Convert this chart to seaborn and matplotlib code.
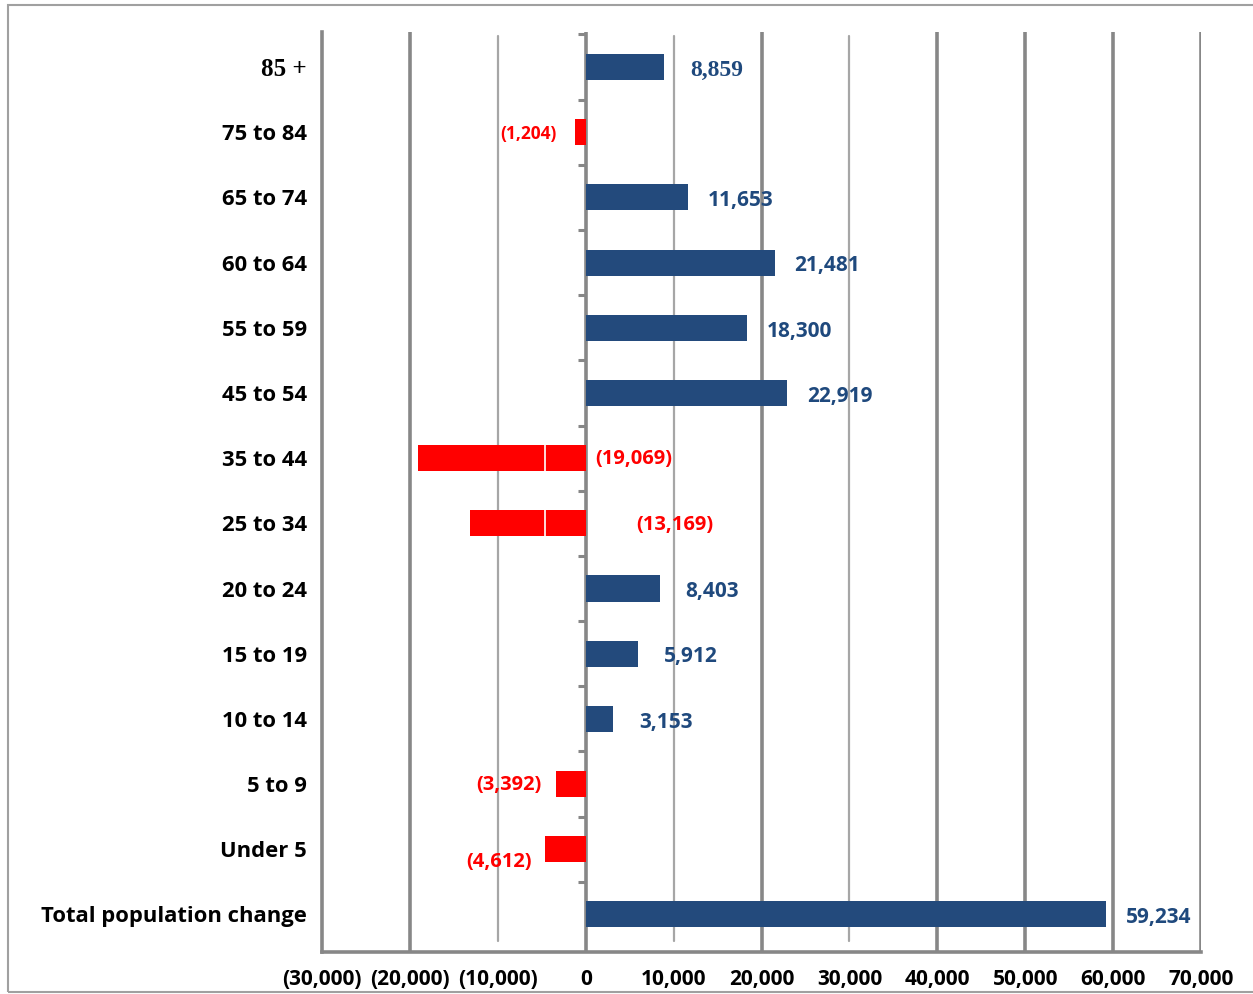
import numpy as np
import pandas as pd
import matplotlib
matplotlib.use("Agg")
import matplotlib.pyplot as plt
from matplotlib.patches import Rectangle
import seaborn as sns

# data
age_groups = ['85 +', '75 to 84', '65 to 74', '60 to 64', '55 to 59', '45 to 54',
              '35 to 44', '25 to 34', '20 to 24', '15 to 19', '10 to 14', '5 to 9',
              'Under 5', 'Total population change']
pop_change = [8859, -1204, 11653, 21481, 18300, 22919, -19069, -13169,
              8403, 5912, 3153, -3392, -4612, 59234]
x_ticks = [-30000, -20000, -10000, 0, 10000, 20000, 30000, 40000, 50000, 60000, 70000]

BLUE = '#234A7C'
RED = '#FF0000'
GRID_DARK = '#878787'
GRID_LIGHT = '#A6A6A6'
SANS = ['Open Sans', 'DejaVu Sans']
SERIF = ['Liberation Serif', 'DejaVu Serif']

sns.set_theme(style='white')
plt.rcParams['font.family'] = SANS

df = pd.DataFrame({'group': age_groups, 'change': pop_change})
df['sign'] = np.where(df['change'] >= 0, 'pos', 'neg')

fig = plt.figure(figsize=(12.53, 9.94), dpi=100)
ax = fig.add_axes([0.257, 0.042, 0.7015, 0.926])

# vertical gridlines: heavy and light ones as in the original
for xv in x_ticks:
    if xv in (-10000, 10000, 30000):
        ax.axvline(xv, color=GRID_LIGHT, lw=1.6, ymin=0.012, ymax=0.995, zorder=0)
    elif xv != -30000:
        ax.axvline(xv, color=GRID_DARK, lw=2.6, zorder=0)

sns.barplot(data=df, x='change', y='group', hue='sign', orient='h',
            palette={'pos': BLUE, 'neg': RED}, width=0.4, dodge=False,
            legend=False, saturation=1, linewidth=0, ax=ax, zorder=3)

n = len(age_groups)
ax.set_xlim(-30000, 70000)
ax.set_ylim(n - 1 + 0.58, -0.54)

# thin white seam through the two long red bars
for i in (6, 7):
    ax.plot([pop_change[-2]] * 2, [i - 0.2, i + 0.2], color='white', lw=1.2, zorder=4)

# little ticks left of the zero line between categories
for i in range(n):
    ax.plot([-900, 0], [i - 0.5, i - 0.5], color=GRID_DARK, lw=2.2, zorder=2,
            solid_capstyle='butt')

# value labels
for i, v in enumerate(pop_change):
    if v >= 0:
        ax.text(v + 6000, i + 0.05, f'{v:,}', ha='center', va='center',
                color='#1F497D', fontsize=15 if i else 17, fontweight='bold',
                family=SERIF if i == 0 else SANS)
    elif v < -10000:
        ax.text(1100 + (abs(v) < 15000) * 4600, i + 0.02, f'({abs(v):,})',
                ha='left', va='center', color=RED, fontsize=14.5, fontweight='bold')
    else:
        fs = 12.5 if abs(v) < 2000 else 14.5
        dy = 0.2 if i == n - 2 else 0.02
        ax.text(v - 5300, i + dy, f'({abs(v):,})', ha='center', va='center',
                color=RED, fontsize=fs, fontweight='bold')

ax.set_xticks(x_ticks)
ax.set_xticklabels([f'({abs(t):,})' if t < 0 else f'{t:,}' for t in x_ticks],
                   fontsize=15, fontweight='bold', color='black')
ax.tick_params(axis='x', length=0, pad=12)
ax.tick_params(axis='y', length=0, pad=11)
for lab in ax.get_yticklabels():
    lab.set_fontsize(15.8)
    lab.set_fontweight('bold')
    lab.set_color('black')
    if lab.get_text() == '85 +':
        lab.set_family(SERIF)
        lab.set_fontsize(18)
ax.set_xlabel('')
ax.set_ylabel('')

for side in ('top', 'right'):
    ax.spines[side].set_visible(False)
for side in ('left', 'bottom'):
    ax.spines[side].set_color(GRID_DARK)
    ax.spines[side].set_linewidth(2.6)

# outer chart border
fig.patches.append(Rectangle((0.0065, 0.002), 1.0, 0.993, transform=fig.transFigure,
                             fill=False, edgecolor='#A0A0A0', lw=1.5))

fig.savefig('out.png', dpi=100)
